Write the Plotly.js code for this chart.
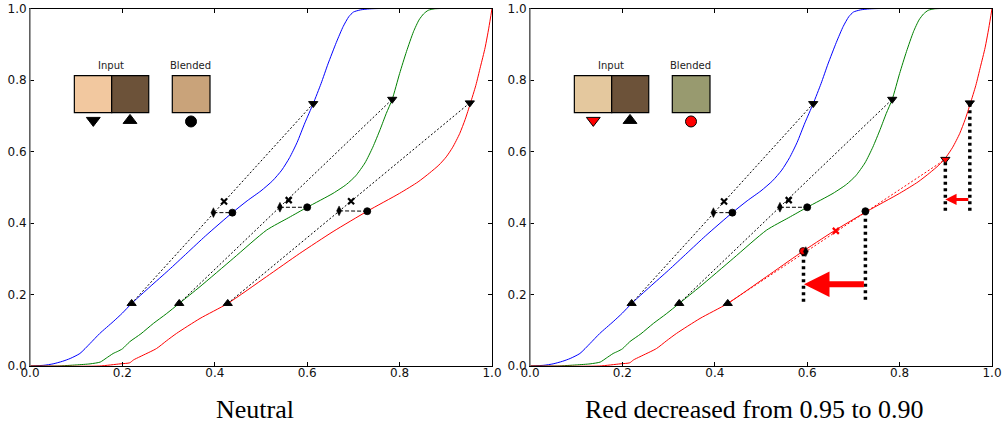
<!DOCTYPE html>
<html>
<head>
<meta charset="utf-8">
<script src="https://cdn.plot.ly/plotly-3.0.1.min.js"></script>
<style>html,body{margin:0;padding:0;background:#fff;}#chart{width:1005px;height:430px;}</style>
</head>
<body>
<div id="chart"></div>
<script>
// ---------- data ----------
const blueX  = [0.000,0.030,0.050,0.070,0.087,0.108,0.130,0.151,0.180,0.200,0.220,0.260,0.300,0.340,0.380,0.438,0.470,0.500,0.525,0.545,0.562,0.578,0.595,0.613,0.630,0.645,0.663,0.678,0.690,0.700,0.715,0.735,0.760,1.000];
const blueY  = [0.000,0.002,0.006,0.013,0.021,0.035,0.063,0.091,0.124,0.148,0.175,0.222,0.268,0.316,0.364,0.429,0.462,0.490,0.518,0.548,0.583,0.625,0.680,0.734,0.790,0.845,0.905,0.950,0.977,0.990,0.996,0.999,1.000,1.000];
const greenX = [0.000,0.060,0.100,0.130,0.152,0.165,0.180,0.190,0.200,0.216,0.240,0.267,0.295,0.323,0.368,0.440,0.512,0.560,0.600,0.656,0.685,0.705,0.725,0.742,0.758,0.771,0.784,0.800,0.815,0.830,0.842,0.852,0.862,0.875,0.890,1.000];
const greenY = [0.000,0.000,0.003,0.006,0.011,0.022,0.035,0.041,0.048,0.068,0.090,0.119,0.146,0.175,0.222,0.301,0.380,0.415,0.444,0.483,0.508,0.532,0.568,0.612,0.662,0.706,0.746,0.818,0.880,0.935,0.968,0.985,0.995,0.999,1.000,1.000];
const redX   = [0.000,0.150,0.195,0.216,0.224,0.238,0.274,0.295,0.317,0.368,0.428,0.512,0.584,0.656,0.730,0.800,0.840,0.865,0.885,0.901,0.915,0.930,0.942,0.953,0.965,0.975,0.985,0.993,1.000];
const redY   = [0.000,0.000,0.006,0.009,0.017,0.026,0.049,0.070,0.091,0.133,0.175,0.250,0.315,0.376,0.433,0.483,0.515,0.540,0.562,0.585,0.612,0.650,0.690,0.734,0.785,0.837,0.890,0.945,1.000];

const tickValues = [0, 0.2, 0.4, 0.6, 0.8, 1.0];
const tickLabels = ['0.0', '0.2', '0.4', '0.6', '0.8', '1.0'];

// Neutral panel (order: blue, green, red)
const neutralUpX      = [0.220, 0.323, 0.428];
const neutralUpY      = [0.175, 0.175, 0.175];
const neutralDownX    = [0.613, 0.784, 0.952];
const neutralDownY    = [0.734, 0.746, 0.736];
const neutralCrossX   = [0.420, 0.560, 0.695];
const neutralCrossY   = [0.460, 0.464, 0.461];
const neutralDiamondX = [0.397, 0.541, 0.669];
const neutralDiamondY = [0.429, 0.444, 0.434];
const neutralCircleX  = [0.438, 0.600, 0.730];
const neutralCircleY  = [0.429, 0.444, 0.433];

// Red-decreased panel (order: blue, green, red)
const changedUpX      = [0.220, 0.323, 0.428];
const changedUpY      = [0.175, 0.175, 0.175];
const changedDownX    = [0.613, 0.784, 0.899];
const changedDownY    = [0.734, 0.746, 0.578];
const changedCrossX   = [0.420, 0.560, 0.662];
const changedCrossY   = [0.460, 0.464, 0.378];
const changedDiamondX = [0.397, 0.541, 0.597];
const changedDiamondY = [0.429, 0.444, 0.320];
const changedCircleX  = [0.438, 0.600, 0.591];
const changedCircleY  = [0.429, 0.444, 0.3215];
const oldRedDownX   = [0.952];
const oldRedDownY   = [0.736];
const oldRedCircleX = [0.726];
const oldRedCircleY = [0.433];

// guides and shift arrows in the red-decreased panel
const guideX      = [0.726, 0.592, 0.899, 0.952];
const guideTopY   = [0.433, 0.320, 0.578, 0.736];
const guideBottomY= [0.185, 0.180, 0.434, 0.434];
const arrowFromX  = [0.726, 0.952];
const arrowToX    = [0.593, 0.899];
const arrowY      = [0.229, 0.466];

const panelTitles = ['Neutral', 'Red decreased from 0.95 to 0.90'];
const insetLabels = ['Input', 'Blended'];

// ---------- styles ----------
const BLUE = '#0000ff', GREEN = '#008000', RED = '#ff0000', BLACK = '#000000';
const curveColors = [BLUE, GREEN, RED];
const traces = [];
const annotations = [];
const shapes = [];

function addCurves(xa, ya) {
  [[blueX, blueY], [greenX, greenY], [redX, redY]].forEach((c, i) => {
    traces.push({x: c[0], y: c[1], xaxis: xa, yaxis: ya, mode: 'lines',
      line: {color: curveColors[i], width: 1, shape: 'spline', smoothing: 0.6}, hoverinfo: 'skip'});
  });
}
function seg(xa, ya, x0, y0, x1, y1, color, dash, width) {
  traces.push({x: [x0, x1], y: [y0, y1], xaxis: xa, yaxis: ya, mode: 'lines',
    line: {color: color, width: width, dash: dash}, hoverinfo: 'skip'});
}
function pts(xa, ya, xs, ys, symbol, size, colors, lineColor, lineWidth) {
  traces.push({x: xs, y: ys, xaxis: xa, yaxis: ya, mode: 'markers', cliponaxis: false,
    marker: {symbol: symbol, size: size, color: colors,
      line: {color: lineColor, width: lineWidth}}, hoverinfo: 'skip'});
}

function addPanel(xa, ya, P) {
  addCurves(xa, ya);
  for (let i = 0; i < 3; i++) {
    seg(xa, ya, P.upX[i], P.upY[i], P.downX[i], P.downY[i], P.lineColors[i], '2px,2px', 1);
    seg(xa, ya, P.diamondX[i], P.diamondY[i], P.circleX[i], P.circleY[i], BLACK, '4px,2px', 1);
  }
  pts(xa, ya, P.upX, P.upY, 'triangle-up', 8, BLACK, BLACK, 1);
  pts(xa, ya, P.downX, P.downY, 'triangle-down', 8, P.markColors, BLACK, 1);
  pts(xa, ya, P.crossX, P.crossY, 'x-thin', 6, P.markColors, P.markColors, 2.2);
  pts(xa, ya, P.circleX, P.circleY, 'circle', 7, P.markColors, BLACK, 0.8);
  pts(xa, ya, P.diamondX, P.diamondY, 'diamond-tall', 7, BLACK, BLACK, 0.5);
}

// left panel
addPanel('x', 'y', {
  upX: neutralUpX, upY: neutralUpY, downX: neutralDownX, downY: neutralDownY,
  crossX: neutralCrossX, crossY: neutralCrossY, diamondX: neutralDiamondX, diamondY: neutralDiamondY,
  circleX: neutralCircleX, circleY: neutralCircleY,
  lineColors: [BLACK, BLACK, BLACK], markColors: [BLACK, BLACK, BLACK]
});

// right panel: guides first
for (let i = 0; i < guideX.length; i++) {
  seg('x2', 'y2', guideX[i], guideBottomY[i], guideX[i], guideTopY[i], BLACK, '3px,3.5px', 3.5);
}
addPanel('x2', 'y2', {
  upX: changedUpX, upY: changedUpY, downX: changedDownX, downY: changedDownY,
  crossX: changedCrossX, crossY: changedCrossY, diamondX: changedDiamondX, diamondY: changedDiamondY,
  circleX: changedCircleX, circleY: changedCircleY,
  lineColors: [BLACK, BLACK, RED], markColors: [BLACK, BLACK, RED]
});
pts('x2', 'y2', oldRedDownX, oldRedDownY, 'triangle-down', 8, BLACK, BLACK, 1);
pts('x2', 'y2', oldRedCircleX, oldRedCircleY, 'circle', 7, BLACK, BLACK, 0.8);

// arrows
const arrowWidths = [6, 3];
const arrowSizes = [0.85, 0.75];
for (let i = 0; i < arrowFromX.length; i++) {
  annotations.push({x: arrowToX[i], y: arrowY[i], ax: arrowFromX[i], ay: arrowY[i],
    xref: 'x2', yref: 'y2', axref: 'x2', ayref: 'y2', text: '', showarrow: true,
    arrowhead: 2, arrowsize: arrowSizes[i], arrowwidth: arrowWidths[i], arrowcolor: RED, standoff: 0});
}

// inset swatches (axis-domain coords)
const insets = [
  {xd: 'x domain', yd: 'y domain', off: 0, light: '#f2c89f', dark: '#6c5239', blend: '#c9a37a', dnColor: BLACK, cColor: BLACK, xa: 'x', ya: 'y'},
  {xd: 'x2 domain', yd: 'y2 domain', off: 500, light: '#e4c89e', dark: '#6c5239', blend: '#989a6f', dnColor: RED, cColor: RED, xa: 'x2', ya: 'y2'}
];
insets.forEach(s => {
  const base = {type: 'rect', xref: s.xd, yref: s.yd, line: {color: BLACK, width: 1.2}, layer: 'above'};
  shapes.push(Object.assign({}, base, {x0: 0.096, x1: 0.1768, y0: 0.709, y1: 0.812, fillcolor: s.light}));
  shapes.push(Object.assign({}, base, {x0: 0.1768, x1: 0.257, y0: 0.709, y1: 0.812, fillcolor: s.dark}));
  shapes.push(Object.assign({}, base, {x0: 0.308, x1: 0.3896, y0: 0.709, y1: 0.812, fillcolor: s.blend}));
  [111, 190.7].forEach((px, k) => {
    annotations.push({xref: 'paper', yref: 'paper', x: (px + s.off) / 1005, y: 1 - 65 / 430,
      xanchor: 'center', yanchor: 'middle', text: insetLabels[k], showarrow: false,
      font: {family: 'DejaVu Sans', size: 10, color: '#222222'}});
  });
  traces.push({x: [0.137], y: [0.687], xaxis: s.xa, yaxis: s.ya, mode: 'markers', hoverinfo: 'skip',
    marker: {symbol: 'triangle-down', size: 12, color: s.dnColor, line: {color: BLACK, width: 1}}});
  traces.push({x: [0.2165], y: [0.687], xaxis: s.xa, yaxis: s.ya, mode: 'markers', hoverinfo: 'skip',
    marker: {symbol: 'triangle-up', size: 12, color: BLACK, line: {color: BLACK, width: 1}}});
  traces.push({x: [0.3485], y: [0.684], xaxis: s.xa, yaxis: s.ya, mode: 'markers', hoverinfo: 'skip',
    marker: {symbol: 'circle', size: 11, color: s.cColor, line: {color: BLACK, width: 1}}});
});

// left spines drawn grey
['x domain', 'x2 domain'].forEach((xd, i) => {
  shapes.push({type: 'line', xref: xd, yref: i ? 'y2 domain' : 'y domain', x0: 0, x1: 0, y0: 0, y1: 1,
    line: {color: '#808080', width: 1.5}, layer: 'above'});
});

// panel titles
const titleX = [254.5 / 1005, 754.7 / 1005];
panelTitles.forEach((t, i) => {
  annotations.push({xref: 'paper', yref: 'paper', x: titleX[i], y: 1 - 409 / 430, xanchor: 'center', yanchor: 'middle',
    text: t, showarrow: false, font: {family: 'Liberation Serif', size: 26, color: BLACK}});
});

function axis(domain, anchor, isX) {
  const a = {domain: domain, anchor: anchor, range: [0, 1], tickmode: 'array', tickvals: tickValues, ticktext: tickLabels,
    ticks: 'inside', ticklen: 4, tickwidth: 1, tickcolor: BLACK, showline: true, linecolor: BLACK, linewidth: 1,
    mirror: 'allticks', showgrid: false, zeroline: false, fixedrange: true,
    tickfont: {family: 'DejaVu Sans', size: 12, color: '#111'}};
  if (isX) a.ticklabelstandoff = -4;
  return a;
}
const yDom = [(430 - 366) / 430, (430 - 8.5) / 430];
const layout = {
  width: 1005, height: 430, margin: {l: 0, r: 0, t: 0, b: 0}, showlegend: false,
  paper_bgcolor: '#fff', plot_bgcolor: '#fff',
  xaxis: axis([30 / 1005, 492 / 1005], 'y', true),
  yaxis: axis(yDom, 'x', false),
  xaxis2: axis([530 / 1005, 992 / 1005], 'y2', true),
  yaxis2: axis(yDom, 'x2', false),
  shapes: shapes, annotations: annotations
};
Plotly.newPlot('chart', traces, layout, {staticPlot: true, displayModeBar: false});
</script>
</body>
</html>
